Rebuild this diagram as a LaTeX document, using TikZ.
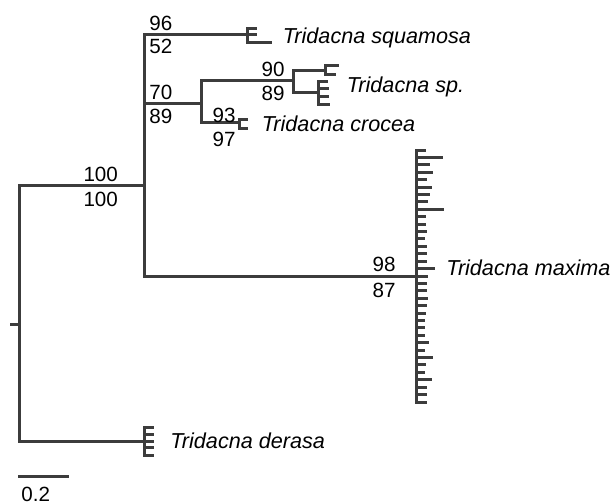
\documentclass[tikz,border=0pt]{standalone}
\usepackage{tikz}
\usepackage{fontspec}
\setmainfont{Liberation Sans}
\usepackage{xcolor}
\definecolor{treegray}{RGB}{60,60,60}

\begin{document}
\begin{tikzpicture}[x=0.5pt,y=-0.5pt]
	\useasboundingbox (0,0) rectangle (612,503);
	\coordinate (R0) at (11,324);
	\coordinate (R) at (19,324);
	\coordinate (A) at (144,185);
	\coordinate (B) at (201,103);
	\coordinate (C) at (293,80);
\par
\coordinate (S) at (247,34);
	\coordinate (P) at (325.7,70);
	\coordinate (Q) at (318,92);
	\coordinate (K) at (239.3,122.7);
	\coordinate (M) at (416,276);
	\coordinate (T) at (144,441);
	\coordinate (Mtop) at (416,150);
\par
\tikzstyle{branch}=[draw=treegray,line width=1.5pt,line cap=rect]
	\tikzstyle{boot}=[inner sep=0pt,font=\fontsize{10.3}{12}\selectfont]
	\tikzstyle{taxon}=[inner sep=0pt,anchor=base west,font=\fontsize{10.8}{12}\selectfont\itshape]
	\draw[branch] (R0) -- (R);
	\draw[branch] (R) |- (A);
	\draw[branch] (R) |- (T);
	\draw[branch] (A) |- (S);
	\draw[branch] (A) |- (B);
	\draw[branch] (A) |- (M);
	\draw[branch] (B) |- (C);
	\draw[branch] (B) |- (K);
	\draw[branch] (C) |- (P);
	\draw[branch] (C) |- (Q);
\par
\draw[branch] (S) ++(0,-5.5) -- ++(0,14.2);
	\foreach \d/\l in {-5.5/8,0/8,8.7/23} \draw[branch] (S) ++(0,\d) -- ++(\l,0);
	\draw[branch] (P) ++(0,-4.3) -- ++(0,8.6);
	\foreach \d/\l in {-4.3/12,4.3/9} \draw[branch] (P) ++(0,\d) -- ++(\l,0);
	\draw[branch] (Q) ++(0,-11) -- ++(0,23.3);
	\foreach \d/\l in {-11/8,-3.7/9,4.7/9,12.3/10} \draw[branch] (Q) ++(0,\d) -- ++(\l,0);
	\draw[branch] (K) ++(0,-3.4) -- ++(0,8.7);
	\foreach \d/\l in {-3.4/7,5.3/7} \draw[branch] (K) ++(0,\d) -- ++(\l,0);
	\draw[branch] (T) ++(0,-13.3) -- ++(0,27.3);
	\foreach \d in {-13.3,-6.7,0,6.7,14} \draw[branch] (T) ++(0,\d) -- ++(8,0);
	\draw[branch] (Mtop) -- ++(0,252);
	\foreach \l [count=\i from 0] in {8.3,25.6,12.3,15.6,9.6,14.3,12.3,10.3,26.3,8.3,8.3,9,7.6,9.6,9,9,17.6,10.3,9.6,9.6,10.3,9,8.3,7.6,7.6,7,11.6,7,15,8.3,7.6,14.3,9.6,9,9.6}
		\draw[branch] (Mtop) ++(0,\i*7.412) -- ++(\l,0);
\par
\node[boot,anchor=base east] (A1) at (118.3,181.7) {100};
	\node[boot,anchor=base east] (A2) at (118.3,206) {100};
	\node[boot,anchor=base west] (S1) at (149,30.5) {96};
	\node[boot,anchor=base west] (S2) at (149,54) {52};
	\node[boot,anchor=base west] (B1) at (149,99) {70};
	\node[boot,anchor=base west] (B2) at (149,123.5) {89};
	\node[boot,anchor=base east] (C1) at (285,76) {90};
	\node[boot,anchor=base east] (C2) at (285,100) {89};
	\node[boot,anchor=base east] (K1) at (236,122.5) {93};
	\node[boot,anchor=base east] (K2) at (236,147) {97};
	\node[boot,anchor=base east] (M1) at (396,271.5) {98};
	\node[boot,anchor=base east] (M2) at (396,297.5) {87};
\par
\node[taxon] (Sq) at (282.5,43) {Tridacna squamosa};
	\node[taxon] (Sp) at (346.5,92) {Tridacna sp.};
	\node[taxon] (Cr) at (261.5,131) {Tridacna crocea};
	\node[taxon] (Mx) at (446,275.5) {Tridacna maxima};
	\node[taxon] (De) at (170,448.5) {Tridacna derasa};
\par
\coordinate (X0) at (19,476);
	\coordinate (X1) at (67,476);
	\draw[branch] (X0) -- (X1);
	\node[boot,anchor=base west] (X) at (21,501) {0.2};
\end{tikzpicture}
\end{document}
